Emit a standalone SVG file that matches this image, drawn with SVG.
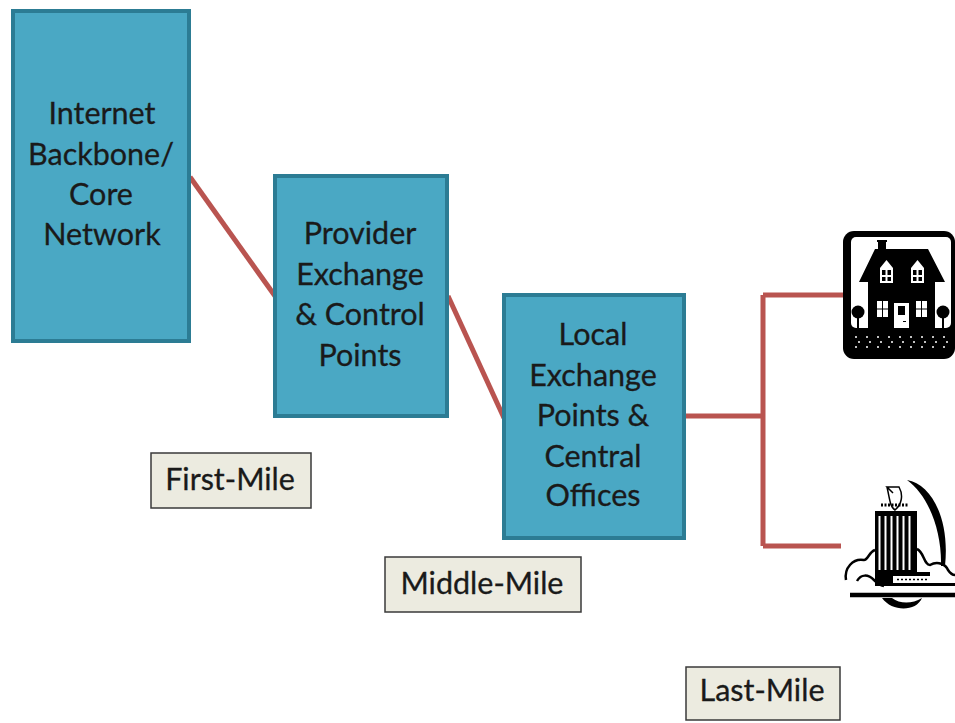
<svg xmlns="http://www.w3.org/2000/svg" width="955" height="723" viewBox="0 0 955 723">
<style>
.box{fill:#4aa8c4;stroke:#2c7c94;stroke-width:4}
.lab{fill:#ecebe0;stroke:#3a3a3a;stroke-width:1.5}
.t{font-family:"Lato","Carlito","Open Sans",sans-serif;font-size:30.5px;fill:#1a1a1a;stroke:#1a1a1a;stroke-width:.3;text-anchor:middle}
.c{fill:none;stroke:#b95450;stroke-width:5}
.k{fill:#000}.w{fill:#fff}
</style>
<rect width="955" height="723" fill="#fff"/>
<g id="connectors">
<path class="c" d="M190 177L275 296"/>
<path class="c" d="M448 296L504 418"/>
<path class="c" d="M685 416H763M763 295V546M763 295H846M763 546H841"/>
</g>
<g id="node-core"><rect class="box" x="13" y="11" width="176" height="330"/>
<text class="t" x="102" y="124">Internet</text><text class="t" x="101" y="165">Backbone/</text><text class="t" x="101" y="205">Core</text><text class="t" x="102" y="245">Network</text></g>
<g id="node-provider"><rect class="box" x="275" y="176" width="172" height="240"/>
<text class="t" x="360" y="244">Provider</text><text class="t" x="360" y="285">Exchange</text><text class="t" x="360" y="325">&amp; Control</text><text class="t" x="360" y="366">Points</text></g>
<g id="node-local"><rect class="box" x="504" y="295" width="180" height="243"/>
<text class="t" x="593" y="345">Local</text><text class="t" x="593" y="386">Exchange</text><text class="t" x="593" y="426">Points &amp;</text><text class="t" x="593" y="467">Central</text><text class="t" x="593" y="506">Offices</text></g>
<g id="label-first"><rect class="lab" x="151" y="453" width="160" height="55"/><text class="t" x="230" y="490">First-Mile</text></g>
<g id="label-middle"><rect class="lab" x="385" y="557" width="196" height="55"/><text class="t" x="482" y="594">Middle-Mile</text></g>
<g id="label-last"><rect class="lab" x="686" y="667" width="154" height="53"/><text class="t" x="762" y="701">Last-Mile</text></g>
<g id="node-house">
<rect class="k" x="843" y="231" width="112" height="128" rx="11"/>
<rect class="w" x="851" y="237" width="100" height="91" rx="5"/>
<path class="k" d="M859 282L875 249H878V242H877V240H887V242H886V249H928L945 282H935V328H868V282Z"/>
<path class="w" d="M880 283V268L886.500 260L893 268V283ZM911 283V268L917.500 260L924 268V283Z"/>
<path class="k" d="M882 270H885.500V275H882ZM887.500 270H891V275H887.500ZM882 277H885.500V281H882ZM887.500 277H891V281H887.500ZM913 270H916.500V275H913ZM918.500 270H922V275H918.500ZM913 277H916.500V281H913ZM918.500 277H922V281H918.500Z"/>
<path class="w" d="M877 301H888V317H877ZM916 301H927V317H916ZM894 303H909V328H894Z"/>
<path class="k" d="M882 301H883V317H882ZM877 308.500H888V309.500H877ZM921 301H922V317H921ZM916 308.500H927V309.500H916ZM898 306H905V315H898ZM903 321H906V322H903Z"/>
<circle class="k" cx="858" cy="312" r="6.500"/><circle class="k" cx="943" cy="312" r="6.500"/>
<path class="k" d="M857 315H859V328H857ZM942 315H944V328H942Z"/>
<path d="M855 337H950M858 342H950M855 347H950" stroke="#fff" stroke-width="1.500" stroke-dasharray="2 9" fill="none"/>
</g>
<g id="node-office">
<path class="k" d="M907 480C932 484 950 520 945 566L941 566C942 530 928 495 907 480Z"/>
<path d="M887 487C890 500 890 507 895 510C901 505 904 496 899 487L887 487L893 493" fill="none" stroke="#000" stroke-width="1.500"/>
<path d="M881 505H909" stroke="#000" stroke-width="3" stroke-dasharray="2 1.500" fill="none"/>
<rect class="k" x="875" y="511" width="42" height="63"/>
<path d="M879.500 516V570M885.500 516V570M891.500 516V570M897.500 516V570M903.500 516V570M909.500 516V570" stroke="#fff" stroke-width="2" fill="none"/>
<rect class="k" x="875" y="572" width="80" height="14"/>
<rect class="w" x="893" y="576" width="37" height="7"/>
<rect class="w" x="930" y="572" width="25" height="11"/>
<path d="M897 579.500H927" stroke="#000" stroke-width="1.500" stroke-dasharray="2 2" fill="none"/>
<path d="M875 550C869 552 868 560 864 560C853 558 844 568 846 580M857 581C861 574 868 574 874 580C878 584 880 585 884 586M917 549C924 552 924 565 930 565C938 560 946 565 948 570C950 573 953 575 955 575" fill="none" stroke="#000" stroke-width="2.500"/>
<path d="M850 595H955" stroke="#000" stroke-width="4.500" fill="none"/>
<path class="k" d="M882 598H892C900 604 912 604 922 598C916 612 892 612 882 598Z"/>
</g>
</svg>
